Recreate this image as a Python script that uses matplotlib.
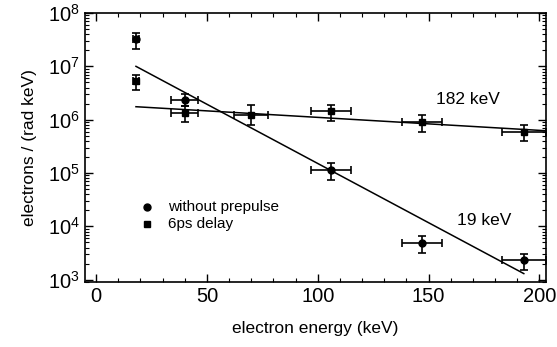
import matplotlib
matplotlib.use('Agg')
import matplotlib.pyplot as plt
from matplotlib.ticker import MultipleLocator, LogLocator, NullFormatter
import numpy as np

plt.rcParams['font.family'] = ['Liberation Sans', 'DejaVu Sans']
plt.rcParams['mathtext.fontset'] = 'custom'
plt.rcParams['mathtext.rm'] = 'Liberation Sans'
plt.rcParams['mathtext.it'] = 'Liberation Sans:italic'

# 无预脉冲（圆点）
circ_x = [18, 40, 106, 147, 193]
circ_y = [3.3e7, 2.3e6, 1.15e5, 4.8e3, 2.3e3]
circ_lo = [2.1e7, 1.8e6, 7.4e4, 3.2e3, 1.55e3]
circ_hi = [4.3e7, 3.0e6, 1.55e5, 6.5e3, 3.0e3]
circ_xerr = [1.5, 6, 9, 9, 10]

# 6ps 延迟（方块）
sq_x = [18, 40, 70, 106, 147, 193]
sq_y = [5.2e6, 1.35e6, 1.25e6, 1.48e6, 9.2e5, 6.0e5]
sq_lo = [3.6e6, 9.2e5, 8.0e5, 9.6e5, 6.0e5, 3.9e5]
sq_hi = [7.0e6, 1.8e6, 1.85e6, 1.9e6, 1.23e6, 7.8e5]
sq_xerr = [1.5, 6, 7.7, 9, 9, 10]

# 拟合直线端点
fit19_x = [18, 193]
fit19_y = [1.0e7, 1.3e3]
fit182_x = [18, 203]
fit182_y = [1.75e6, 6.2e5]

fig = plt.figure(figsize=(5.57, 3.47), dpi=100)
ax = fig.add_axes([0.1526, 0.187, 0.8276, 0.7755])

ax.plot(fit19_x, fit19_y, 'k-', lw=1.1)
ax.plot(fit182_x, fit182_y, 'k-', lw=1.1)

cy = np.array(circ_y)
ax.errorbar(circ_x, circ_y, xerr=circ_xerr,
            yerr=[cy - np.array(circ_lo), np.array(circ_hi) - cy],
            fmt='o', color='k', ms=5, elinewidth=1.2, capsize=3, capthick=1.2)
sy = np.array(sq_y)
ax.errorbar(sq_x, sq_y, xerr=sq_xerr,
            yerr=[sy - np.array(sq_lo), np.array(sq_hi) - sy],
            fmt='s', color='k', ms=5, elinewidth=1.2, capsize=3, capthick=1.2)

ax.set_yscale('log')
ax.set_xlim(-5, 203)
ax.set_ylim(9e2, 1e8)

ax.xaxis.set_major_locator(MultipleLocator(50))
ax.xaxis.set_minor_locator(MultipleLocator(10))
ax.yaxis.set_major_locator(LogLocator(base=10, numticks=10))
ax.yaxis.set_minor_locator(LogLocator(base=10, subs=np.arange(2, 10), numticks=10))
ax.yaxis.set_minor_formatter(NullFormatter())
ax.tick_params(which='both', direction='in', top=True, right=True, labelsize=14.5)
ax.tick_params(which='major', length=6, width=1)
ax.tick_params(which='minor', length=3, width=0.8)
for s in ax.spines.values():
    s.set_linewidth(1.2)

ax.set_xlabel('electron energy (keV)', fontsize=12.5, labelpad=11)
ax.set_ylabel('electrons / (rad keV)', fontsize=12.5, labelpad=8)

ax.text(168, 2.4e6, '182 keV', fontsize=12.5, ha='center', va='center')
ax.text(175, 1.3e4, '19 keV', fontsize=12.5, ha='center', va='center')

# 图例
ax.plot([23], [2.3e4], 'ko', ms=5)
ax.plot([23], [1.1e4], 'ks', ms=5)
ax.text(32.5, 2.3e4, 'without prepulse', fontsize=11, va='center')
ax.text(32.5, 1.1e4, '6ps delay', fontsize=11, va='center')

fig.savefig('out.png', dpi=100)
